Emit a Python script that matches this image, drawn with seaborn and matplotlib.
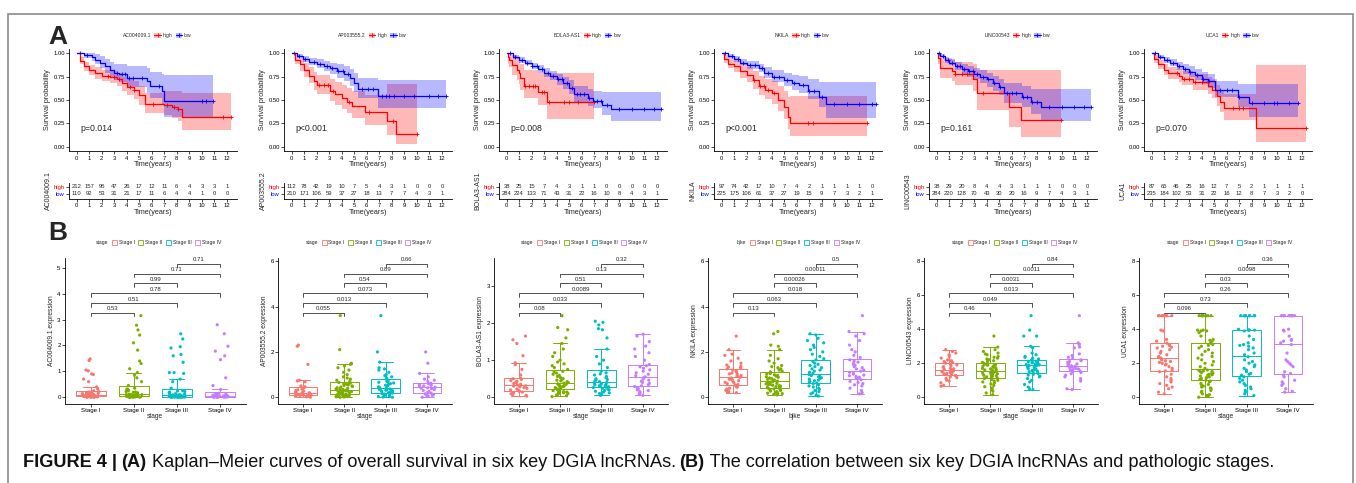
import numpy as np
import pandas as pd
import matplotlib
matplotlib.use("Agg")
import matplotlib.pyplot as plt
import seaborn as sns
from matplotlib.patches import Patch, Rectangle
from matplotlib.lines import Line2D

# ------------------------------------------------------------------ data
genes = ["AC004009.1", "AP003555.2", "BOLA3-AS1", "NKILA", "LINC00543", "UCA1"]
legend_genes = ["AC004009.1", "AP003555.2", "BOLA3-AS1", "NKILA", "LINC00543", "UCA1"]
p_values = ["p=0.014", "p<0.001", "p=0.008", "p<0.001", "p=0.161", "p=0.070"]
time_ticks = list(range(13))
surv_ticks = [0.0, 0.25, 0.5, 0.75, 1.0]
surv_tick_labels = ["0.00", "0.25", "0.50", "0.75", "1.00"]
groups = ["high", "low"]

# --- AC004009.1
AC_hi_t = [0, 0.3, 0.6, 1.0, 1.5, 2.0, 2.7, 3.2, 3.6, 4.0, 4.6, 5.0, 5.5, 7.0, 7.6, 8.1, 8.4]
AC_hi_s = [1.0, 0.92, 0.86, 0.82, 0.79, 0.76, 0.75, 0.72, 0.68, 0.64, 0.61, 0.55, 0.46, 0.45, 0.42, 0.40, 0.32]
AC_hi_lo = [1.0, 0.88, 0.81, 0.77, 0.73, 0.70, 0.68, 0.65, 0.60, 0.55, 0.51, 0.45, 0.36, 0.34, 0.31, 0.28, 0.18]
AC_hi_up = [1.0, 0.96, 0.91, 0.87, 0.85, 0.82, 0.81, 0.79, 0.75, 0.72, 0.70, 0.65, 0.57, 0.60, 0.60, 0.60, 0.58]
AC_hi_end = 12.3
AC_hi_cens = [2.5, 3.0, 3.4, 4.3, 4.6, 6.1, 7.2, 7.8, 8.1, 11.7, 12.3]
AC_lo_t = [0, 0.6, 1.2, 1.5, 1.9, 2.3, 2.7, 3.0, 3.4, 4.0, 5.6, 5.9, 6.8, 7.0]
AC_lo_s = [1.0, 0.98, 0.96, 0.93, 0.90, 0.86, 0.82, 0.79, 0.78, 0.74, 0.70, 0.65, 0.60, 0.49]
AC_lo_lo = [1.0, 0.95, 0.92, 0.88, 0.84, 0.79, 0.74, 0.71, 0.69, 0.64, 0.58, 0.52, 0.46, 0.32]
AC_lo_up = [1.0, 1.0, 1.0, 0.99, 0.97, 0.94, 0.91, 0.89, 0.88, 0.86, 0.84, 0.80, 0.78, 0.77]
AC_lo_end = 10.9
AC_lo_cens = [0.3, 0.8, 3.2, 3.6, 3.9, 4.2, 4.5, 5.2, 6.6, 10.0, 10.3, 10.9]
AC_risk_high = [212, 157, 95, 47, 26, 17, 12, 11, 6, 4, 3, 3, 1]
AC_risk_low = [110, 92, 53, 31, 21, 17, 11, 6, 4, 4, 1, 0, 0]

# --- AP003555.2
AP_hi_t = [0, 0.3, 0.7, 1.0, 1.4, 1.8, 2.0, 3.1, 3.5, 4.0, 4.4, 4.8, 5.9, 7.6, 8.3]
AP_hi_s = [1.0, 0.93, 0.88, 0.82, 0.76, 0.70, 0.66, 0.60, 0.56, 0.52, 0.48, 0.44, 0.37, 0.28, 0.14]
AP_hi_lo = [1.0, 0.88, 0.81, 0.75, 0.68, 0.61, 0.56, 0.49, 0.45, 0.40, 0.36, 0.31, 0.23, 0.13, 0.03]
AP_hi_up = [1.0, 0.98, 0.95, 0.90, 0.85, 0.80, 0.77, 0.72, 0.69, 0.66, 0.63, 0.60, 0.55, 0.67, 0.67]
AP_hi_end = 10.0
AP_hi_cens = [0.2, 2.2, 2.6, 2.9, 3.3, 4.6, 6.2, 8.1, 10.0]
AP_lo_t = [0, 0.4, 0.9, 1.4, 2.0, 2.6, 3.1, 3.6, 4.2, 4.7, 5.0, 5.3, 6.9]
AP_lo_s = [1.0, 0.97, 0.94, 0.91, 0.89, 0.86, 0.84, 0.81, 0.78, 0.74, 0.68, 0.62, 0.54]
AP_lo_lo = [1.0, 0.95, 0.91, 0.87, 0.84, 0.81, 0.78, 0.74, 0.70, 0.65, 0.59, 0.52, 0.41]
AP_lo_up = [1.0, 0.99, 0.97, 0.95, 0.94, 0.92, 0.90, 0.88, 0.86, 0.83, 0.79, 0.74, 0.71]
AP_lo_end = 12.3
AP_lo_cens = [0.6, 1.1, 1.8, 2.3, 2.8, 3.2, 3.7, 4.1, 4.5, 5.6, 6.1, 6.5, 7.2, 7.5, 7.8, 8.2, 9.0, 9.8, 11.0, 11.7, 12.3]
AP_risk_high = [112, 78, 42, 19, 10, 7, 5, 4, 3, 1, 0, 0, 0]
AP_risk_low = [210, 171, 106, 59, 37, 27, 18, 13, 7, 7, 4, 3, 1]

# --- BOLA3-AS1
BO_hi_t = [0, 0.1, 0.2, 0.4, 0.8, 1.0, 1.1, 1.4, 2.5, 3.2]
BO_hi_s = [1.0, 0.96, 0.93, 0.87, 0.82, 0.79, 0.74, 0.65, 0.59, 0.48]
BO_hi_lo = [1.0, 0.89, 0.85, 0.77, 0.71, 0.67, 0.61, 0.52, 0.45, 0.30]
BO_hi_up = [1.0, 1.0, 1.0, 0.98, 0.95, 0.93, 0.89, 0.82, 0.79, 0.79]
BO_hi_end = 7.0
BO_hi_cens = [1.5, 1.8, 2.1, 2.3, 2.8, 3.0, 3.4, 4.6, 5.0, 5.7, 7.0]
BO_lo_t = [0, 0.5, 1.0, 1.5, 2.0, 2.5, 3.0, 3.5, 4.0, 4.5, 5.0, 5.4, 6.5, 6.9, 7.6, 8.3]
BO_lo_s = [1.0, 0.96, 0.93, 0.90, 0.86, 0.83, 0.79, 0.76, 0.72, 0.68, 0.63, 0.56, 0.52, 0.49, 0.45, 0.40]
BO_lo_lo = [1.0, 0.94, 0.90, 0.87, 0.83, 0.79, 0.75, 0.71, 0.66, 0.62, 0.56, 0.48, 0.44, 0.41, 0.34, 0.27]
BO_lo_up = [1.0, 0.98, 0.96, 0.93, 0.90, 0.87, 0.84, 0.81, 0.78, 0.75, 0.71, 0.65, 0.62, 0.60, 0.59, 0.59]
BO_lo_end = 12.3
BO_lo_cens = [0.3, 0.7, 1.2, 1.6, 2.0, 2.4, 2.8, 3.3, 3.7, 4.1, 4.4, 4.8, 5.2, 5.6, 5.9, 6.2, 6.6, 7.2, 7.5, 8.0, 9.0, 10.0, 11.0, 11.8, 12.3]
BO_risk_high = [38, 25, 15, 7, 4, 3, 1, 1, 0, 0, 0, 0, 0]
BO_risk_low = [284, 224, 133, 71, 43, 31, 22, 16, 10, 8, 4, 3, 1]

# --- NKILA
NK_hi_t = [0, 0.2, 0.5, 1.0, 1.5, 2.0, 2.5, 3.0, 3.5, 4.0, 4.5, 5.0, 5.3, 5.5]
NK_hi_s = [1.0, 0.94, 0.89, 0.86, 0.81, 0.77, 0.71, 0.65, 0.61, 0.57, 0.50, 0.43, 0.32, 0.25]
NK_hi_lo = [1.0, 0.90, 0.84, 0.80, 0.74, 0.69, 0.62, 0.55, 0.51, 0.46, 0.38, 0.30, 0.19, 0.11]
NK_hi_up = [1.0, 0.98, 0.95, 0.92, 0.88, 0.85, 0.81, 0.76, 0.73, 0.70, 0.65, 0.60, 0.53, 0.54]
NK_hi_end = 11.6
NK_hi_cens = [2.6, 3.1, 3.4, 3.7, 4.2, 6.9, 7.3, 11.6]
NK_lo_t = [0, 0.5, 1.0, 1.5, 2.0, 3.0, 3.4, 4.0, 5.0, 5.6, 6.2, 6.9, 7.8, 8.3]
NK_lo_s = [1.0, 0.97, 0.94, 0.90, 0.87, 0.84, 0.79, 0.75, 0.71, 0.68, 0.66, 0.60, 0.53, 0.46]
NK_lo_lo = [1.0, 0.95, 0.91, 0.87, 0.83, 0.80, 0.74, 0.69, 0.65, 0.61, 0.58, 0.51, 0.42, 0.31]
NK_lo_up = [1.0, 0.99, 0.97, 0.94, 0.92, 0.89, 0.85, 0.82, 0.79, 0.77, 0.76, 0.72, 0.69, 0.69]
NK_lo_end = 12.3
NK_lo_cens = [0.3, 0.8, 1.3, 1.7, 2.3, 2.7, 3.2, 3.7, 4.2, 4.6, 5.2, 5.8, 6.5, 7.0, 7.4, 8.0, 9.0, 10.0, 11.0, 12.0, 12.3]
NK_risk_high = [97, 74, 42, 17, 10, 7, 4, 2, 1, 1, 1, 1, 0]
NK_risk_low = [225, 175, 106, 61, 37, 27, 19, 15, 9, 7, 3, 2, 1]

# --- LINC00543
LI_hi_t = [0, 0.1, 0.3, 1.2, 1.5, 2.9, 3.2, 5.8, 6.7]
LI_hi_s = [1.0, 0.95, 0.84, 0.81, 0.78, 0.73, 0.57, 0.43, 0.29]
LI_hi_lo = [1.0, 0.88, 0.74, 0.70, 0.66, 0.60, 0.39, 0.21, 0.10]
LI_hi_up = [1.0, 1.0, 0.95, 0.93, 0.91, 0.88, 0.82, 0.82, 0.82]
LI_hi_end = 9.9
LI_hi_cens = [1.5, 2.0, 2.4, 3.7, 9.9]
LI_lo_t = [0, 0.3, 0.7, 1.0, 1.5, 2.0, 2.5, 3.0, 3.5, 4.0, 4.5, 5.0, 5.4, 6.8, 7.5, 8.3]
LI_lo_s = [1.0, 0.97, 0.93, 0.90, 0.86, 0.83, 0.81, 0.78, 0.75, 0.72, 0.68, 0.64, 0.57, 0.53, 0.48, 0.42]
LI_lo_lo = [1.0, 0.95, 0.90, 0.87, 0.82, 0.78, 0.75, 0.72, 0.68, 0.64, 0.60, 0.55, 0.47, 0.42, 0.35, 0.27]
LI_lo_up = [1.0, 0.99, 0.96, 0.94, 0.91, 0.88, 0.86, 0.84, 0.82, 0.79, 0.76, 0.73, 0.68, 0.65, 0.62, 0.62]
LI_lo_end = 12.3
LI_lo_cens = [0.2, 0.5, 0.9, 1.2, 1.6, 1.9, 2.2, 2.6, 2.9, 3.2, 3.7, 4.1, 4.6, 5.1, 5.6, 6.0, 6.3, 6.9, 7.2, 7.6, 8.0, 9.0, 10.0, 11.0, 11.8, 12.3]
LI_risk_high = [38, 29, 20, 8, 4, 4, 3, 1, 1, 1, 0, 0, 0]
LI_risk_low = [284, 220, 128, 70, 43, 30, 20, 16, 9, 7, 4, 3, 1]

# --- UCA1
UC_hi_t = [0, 0.2, 0.5, 1.0, 1.3, 2.2, 2.4, 3.3, 4.5, 4.8, 5.2, 5.5, 5.8, 8.3]
UC_hi_s = [1.0, 0.94, 0.88, 0.82, 0.79, 0.76, 0.73, 0.69, 0.65, 0.61, 0.54, 0.48, 0.41, 0.20]
UC_hi_lo = [1.0, 0.90, 0.83, 0.77, 0.73, 0.69, 0.66, 0.61, 0.56, 0.52, 0.44, 0.37, 0.29, 0.05]
UC_hi_up = [1.0, 0.98, 0.93, 0.88, 0.85, 0.83, 0.81, 0.78, 0.75, 0.72, 0.66, 0.61, 0.56, 0.87]
UC_hi_end = 12.3
UC_hi_cens = [2.0, 2.6, 3.0, 3.5, 4.0, 6.5, 7.0, 7.3, 12.3]
UC_lo_t = [0, 0.5, 1.0, 1.5, 2.0, 2.5, 3.0, 3.5, 4.0, 4.5, 5.1, 6.9, 7.8]
UC_lo_s = [1.0, 0.96, 0.93, 0.90, 0.86, 0.83, 0.80, 0.77, 0.73, 0.70, 0.61, 0.53, 0.47]
UC_lo_lo = [1.0, 0.94, 0.90, 0.86, 0.82, 0.78, 0.75, 0.71, 0.67, 0.63, 0.53, 0.43, 0.32]
UC_lo_up = [1.0, 0.98, 0.96, 0.94, 0.91, 0.88, 0.86, 0.83, 0.80, 0.78, 0.70, 0.67, 0.67]
UC_lo_end = 11.7
UC_lo_cens = [0.3, 0.7, 1.2, 1.7, 2.2, 2.7, 3.1, 3.6, 4.1, 4.6, 5.5, 6.0, 6.4, 7.0, 8.0, 9.0, 9.8, 10.0, 11.0, 11.7]
UC_risk_high = [87, 65, 46, 25, 16, 12, 7, 5, 2, 1, 1, 1, 1]
UC_risk_low = [235, 184, 102, 53, 31, 22, 16, 12, 8, 7, 3, 2, 0]

# --- panel B: expression by stage
stages = ["Stage I", "Stage II", "Stage III", "Stage IV"]
box_titles = ["stage", "stage", "stage", "bjke", "stage", "stage"]
box_yticks = [[0, 1, 2, 3, 4, 5], [0, 2, 4, 6], [0, 1, 2, 3], [0, 2, 4, 6], [0, 2, 4, 6, 8], [0, 2, 4, 6, 8]]
comparisons = [(0, 1), (0, 2), (0, 3), (1, 2), (1, 3), (2, 3)]
AC_pairs_p = ["0.53", "0.51", "0.78", "0.99", "0.71", "0.71"]
AP_pairs_p = ["0.055", "0.013", "0.073", "0.54", "0.89", "0.66"]
BO_pairs_p = ["0.08", "0.033", "0.0089", "0.51", "0.13", "0.32"]
NK_pairs_p = ["0.13", "0.063", "0.018", "0.00026", "0.00011", "0.5"]
LI_pairs_p = ["0.46", "0.049", "0.013", "0.0031", "0.0011", "0.84"]
UC_pairs_p = ["0.096", "0.73", "0.26", "0.03", "0.0098", "0.36"]

AC_I = [0.0, 0.0, 0.01, 0.01, 0.02, 0.02, 0.03, 0.04, 0.05, 0.06, 0.07, 0.08, 0.08, 0.09, 0.10, 0.12, 0.14, 0.16, 0.18, 0.20,
        0.0, 0.01, 0.02, 0.03, 0.04, 0.05, 0.06, 0.10, 0.12, 0.15,
        0.22, 0.25, 0.32, 0.40, 0.60, 0.70, 0.88, 0.90, 1.02, 1.05, 1.42, 1.48]
AC_II = [0, 0, 0, 0, 0.01, 0.01, 0.01, 0.02, 0.02, 0.02, 0.03, 0.03, 0.04, 0.04, 0.05, 0.05, 0.06, 0.06, 0.07, 0.07, 0.08, 0.08, 0.09, 0.09, 0.1, 0.1, 0.1,
         0.12, 0.14, 0.15, 0.17, 0.19, 0.2, 0.22, 0.24, 0.26, 0.28, 0.3, 0.32, 0.35,
         0.45, 0.6, 0.75, 0.85, 0.95, 1.1, 1.3, 1.4, 1.82, 2.1, 2.4, 2.6, 2.78, 3.15]
AC_III = [0, 0, 0, 0, 0, 0, 0.01, 0.01, 0.01, 0.01, 0.02, 0.02, 0.02, 0.03, 0.03, 0.03, 0.04, 0.04, 0.04, 0.05, 0.05, 0.05,
          0.06, 0.06, 0.07, 0.07, 0.08, 0.08,
          0.09, 0.1, 0.12, 0.14, 0.16, 0.18, 0.2, 0.22, 0.24, 0.25,
          0.35, 0.6, 0.7, 0.92, 0.95, 0.95, 1.35, 1.6, 1.65, 1.9, 1.95, 2.25, 2.45]
AC_IV = [0, 0, 0, 0, 0.01, 0.01, 0.01, 0.02, 0.02, 0.02, 0.03, 0.03, 0.03, 0.04, 0.04, 0.05, 0.05,
         0.06, 0.07, 0.08, 0.08, 0.09, 0.1, 0.11, 0.12, 0.14, 0.15,
         0.3, 0.45, 0.75, 1.45, 1.6, 1.78, 1.97, 2.45, 2.8]

AP_I = [0, 0.02, 0.04, 0.05, 0.05, 0.07, 0.08, 0.1, 0.11, 0.12, 0.13, 0.14, 0.15, 0.17, 0.18, 0.2, 0.2, 0.22, 0.25, 0.28,
        0.3, 0.33, 0.36, 0.4, 0.44, 0.46, 0.5, 0.68, 0.72, 0.75, 1.45, 2.25, 2.3]
AP_II = [0, 0.01, 0.02, 0.03, 0.04, 0.05, 0.06, 0.07, 0.08, 0.09, 0.1, 0.1, 0.11, 0.12,
         0.14, 0.16, 0.18, 0.2, 0.22, 0.23, 0.25, 0.26, 0.27, 0.28, 0.3, 0.31, 0.32,
         0.34, 0.36, 0.38, 0.4, 0.42, 0.45, 0.47, 0.5, 0.52, 0.55, 0.57, 0.6, 0.62,
         0.65, 0.7, 0.75, 0.8, 0.85, 0.9, 1.0, 1.1, 1.2, 1.3, 1.38, 1.45, 1.5, 2.1, 3.6]
AP_III = [0, 0.01, 0.03, 0.05, 0.07, 0.09, 0.1, 0.12, 0.14, 0.16, 0.18,
          0.2, 0.22, 0.24, 0.26, 0.28, 0.3, 0.31, 0.33, 0.35, 0.36, 0.37,
          0.4, 0.43, 0.46, 0.5, 0.53, 0.56, 0.6, 0.63, 0.66, 0.68, 0.7,
          0.75, 0.8, 0.85, 0.9, 0.95, 1.0, 1.1, 1.2, 1.25, 1.3, 1.55, 2.0, 3.6]
AP_IV = [0, 0.03, 0.05, 0.08, 0.1, 0.12, 0.15, 0.18, 0.22, 0.26, 0.3, 0.34, 0.38, 0.4, 0.42, 0.44, 0.47, 0.5, 0.52, 0.55,
         0.58, 0.6, 0.62, 0.7, 0.75, 0.8, 0.9, 1.05, 1.5, 2.0]

BO_I = [0.03, 0.05, 0.07, 0.09, 0.1, 0.12, 0.14, 0.16, 0.17,
        0.18, 0.2, 0.22, 0.24, 0.26, 0.28, 0.3, 0.31, 0.33,
        0.35, 0.37, 0.39, 0.41, 0.43, 0.45, 0.48, 0.5, 0.52,
        0.6, 0.75, 0.88, 0.93, 1.12, 1.45, 1.55, 1.65]
BO_II = [0.02, 0.04, 0.06, 0.08, 0.1, 0.11, 0.12, 0.13, 0.14, 0.15, 0.16, 0.18, 0.2, 0.22,
         0.23, 0.24, 0.26, 0.27, 0.28, 0.29, 0.3, 0.31, 0.32, 0.33, 0.35, 0.36, 0.38,
         0.4, 0.42, 0.44, 0.46, 0.48, 0.5, 0.53, 0.56, 0.59, 0.62, 0.65, 0.68, 0.7,
         0.75, 0.8, 0.85, 0.9, 0.95, 1.0, 1.1, 1.2, 1.3, 1.45, 1.6, 1.82, 1.88, 2.2]
BO_III = [0.05, 0.08, 0.1, 0.12, 0.14, 0.16, 0.18, 0.2, 0.22, 0.24, 0.26,
          0.27, 0.28, 0.29, 0.3, 0.31, 0.32, 0.33, 0.34, 0.36, 0.38, 0.4,
          0.42, 0.44, 0.46, 0.48, 0.5, 0.53, 0.56, 0.6, 0.63, 0.66, 0.7,
          0.8, 0.9, 1.0, 1.1, 1.3, 1.6, 1.82, 1.85, 1.95, 2.02, 2.05]
BO_IV = [0.05, 0.08, 0.12, 0.15, 0.18, 0.2, 0.23, 0.26, 0.29,
         0.31, 0.34, 0.37, 0.4, 0.43, 0.46, 0.49, 0.52, 0.55,
         0.58, 0.62, 0.66, 0.7, 0.74, 0.78, 0.82, 0.85, 0.88,
         1.0, 1.1, 1.2, 1.3, 1.38, 1.5, 1.65, 1.7]

NK_I = [0.2, 0.22, 0.25, 0.3, 0.33, 0.36, 0.4, 0.44, 0.48, 0.5, 0.53,
        0.56, 0.6, 0.63, 0.66, 0.7, 0.73, 0.76, 0.79, 0.82, 0.85, 0.88,
        0.9, 0.93, 0.96, 1.0, 1.03, 1.07, 1.1, 1.13, 1.17, 1.2, 1.25,
        1.3, 1.33, 1.37, 1.42, 1.5, 1.6, 1.72, 1.85, 1.9, 2.1, 2.7]
NK_II = [0.1, 0.12, 0.14, 0.16, 0.18, 0.2, 0.22, 0.24, 0.27, 0.3, 0.32, 0.35, 0.37, 0.39, 0.41,
         0.43, 0.45, 0.47, 0.49, 0.51, 0.53, 0.55, 0.57, 0.59, 0.61, 0.63, 0.65, 0.67, 0.69, 0.71,
         0.73, 0.76, 0.79, 0.82, 0.85, 0.88, 0.9, 0.93, 0.96, 0.99, 1.02, 1.05, 1.08, 1.1, 1.12,
         1.15, 1.2, 1.25, 1.3, 1.35, 1.4, 1.5, 1.6, 1.7, 1.85, 2.1, 2.25, 2.3, 2.8, 2.9]
NK_III = [0.05, 0.1, 0.15, 0.2, 0.25, 0.3, 0.35, 0.4, 0.45, 0.5, 0.55, 0.6,
          0.63, 0.66, 0.7, 0.73, 0.76, 0.8, 0.83, 0.86, 0.9, 0.93, 0.96, 1.0,
          1.05, 1.1, 1.15, 1.2, 1.25, 1.3, 1.35, 1.4, 1.45, 1.5, 1.58, 1.65,
          1.7, 1.8, 1.9, 2.0, 2.1, 2.2, 2.3, 2.4, 2.5, 2.6, 2.75, 2.8]
NK_IV = [0.15, 0.2, 0.3, 0.4, 0.5, 0.55, 0.6, 0.65, 0.7, 0.77,
         0.82, 0.85, 0.88, 0.92, 0.95, 0.98, 1.02, 1.06, 1.1, 1.15,
         1.2, 1.25, 1.3, 1.35, 1.4, 1.45, 1.5, 1.55, 1.6, 1.65,
         1.75, 1.85, 2.0, 2.1, 2.3, 2.5, 2.7, 2.8, 2.9, 3.6]

LI_I = [0.65, 0.7, 0.85, 0.95, 1.0, 1.1, 1.15, 1.2, 1.25, 1.28,
        1.32, 1.35, 1.38, 1.4, 1.43, 1.46, 1.5, 1.52, 1.55, 1.58,
        1.6, 1.63, 1.67, 1.7, 1.75, 1.8, 1.85, 1.9, 1.95, 2.0,
        2.05, 2.1, 2.15, 2.2, 2.3, 2.4, 2.5, 2.6, 2.7, 2.8]
LI_II = [0.15, 0.25, 0.35, 0.45, 0.55, 0.62, 0.7, 0.78, 0.85, 0.9, 0.95, 1.0, 1.05, 1.1, 1.13,
         1.17, 1.2, 1.23, 1.26, 1.29, 1.32, 1.35, 1.38, 1.41, 1.44, 1.47, 1.5, 1.52, 1.54, 1.55,
         1.58, 1.61, 1.64, 1.67, 1.7, 1.73, 1.76, 1.79, 1.82, 1.85, 1.88, 1.91, 1.94, 1.97, 2.0,
         2.05, 2.1, 2.15, 2.2, 2.25, 2.3, 2.35, 2.4, 2.5, 2.55, 2.6, 2.7, 2.8, 2.95, 3.6]
LI_III = [0.45, 0.5, 0.6, 0.75, 0.9, 1.0, 1.1, 1.2, 1.25, 1.3, 1.35, 1.4,
          1.45, 1.5, 1.53, 1.57, 1.6, 1.64, 1.68, 1.72, 1.75, 1.78, 1.82, 1.85,
          1.87, 1.9, 1.92, 1.95, 1.97, 2.0, 2.02, 2.05, 2.08, 2.1, 2.12, 2.15,
          2.2, 2.25, 2.3, 2.35, 2.4, 2.5, 2.6, 2.9, 3.0, 3.6, 3.6, 3.95, 4.8]
LI_IV = [0.45, 0.5, 0.95, 1.1, 1.2, 1.3, 1.38, 1.45, 1.5,
         1.55, 1.6, 1.63, 1.67, 1.7, 1.74, 1.78, 1.82, 1.85,
         1.88, 1.92, 1.96, 2.0, 2.05, 2.1, 2.15, 2.2, 2.28,
         2.35, 2.45, 2.55, 2.9, 2.95, 3.1, 3.2, 4.8]

UC_I = [0.2, 0.3, 0.5, 0.6, 0.7, 0.8, 0.9, 1.0, 1.1, 1.2, 1.35, 1.5,
        1.55, 1.6, 1.7, 1.8, 1.9, 1.95, 2.0, 2.05, 2.1, 2.15, 2.2, 2.3,
        2.35, 2.4, 2.5, 2.6, 2.7, 2.8, 2.9, 2.95, 3.0, 3.05, 3.1, 3.18,
        3.3, 3.4, 3.9, 3.95, 4.8, 4.8, 4.8, 4.8, 4.8, 4.8, 4.8, 4.8]
UC_II = [0.0, 0.05, 0.1, 0.15, 0.2, 0.3, 0.35, 0.4, 0.5, 0.55, 0.6, 0.65, 0.7, 0.75, 0.8, 0.9, 0.95,
         1.0, 1.05, 1.1, 1.15, 1.2, 1.25, 1.3, 1.32, 1.35, 1.4, 1.42, 1.45, 1.5, 1.52, 1.55, 1.58, 1.6,
         1.7, 1.8, 1.9, 2.0, 2.1, 2.2, 2.3, 2.4, 2.5, 2.6, 2.7, 2.8, 2.9, 3.0, 3.05, 3.1, 3.18,
         3.3, 3.35, 3.4, 3.6, 3.8, 3.9, 3.9, 3.95, 3.95, 4.8, 4.8, 4.8, 4.8, 4.8, 4.8, 4.8, 4.8]
UC_III = [0.1, 0.2, 0.3, 0.4, 0.5, 0.6, 0.7, 0.8, 0.9, 1.0, 1.1, 1.2,
          1.3, 1.35, 1.4, 1.5, 1.6, 1.7, 1.8, 1.9, 2.0, 2.1, 2.2, 2.38,
          2.5, 2.6, 2.8, 2.9, 3.0, 3.05, 3.1, 3.2, 3.4, 3.6, 3.9, 3.95,
          3.95, 3.95, 3.95, 4.0, 4.8, 4.8, 4.8, 4.8, 4.8, 4.8, 4.8, 4.8]
UC_IV = [0.3, 0.35, 0.5, 0.7, 0.8, 0.9, 1.0, 1.2, 1.3,
         1.4, 1.5, 1.8, 1.9, 2.0, 2.1, 2.2, 2.6, 3.1,
         3.2, 3.3, 3.35, 3.4, 3.6, 3.9, 3.95, 4.0, 4.8,
         4.8, 4.8, 4.8, 4.8, 4.8, 4.8, 4.8, 4.8, 4.8]

caption_parts = [("FIGURE 4 | ", "bold"), ("(A)", "bold"),
                 (" Kaplan\u2013Meier curves of overall survival in six key DGIA lncRNAs. ", "normal"),
                 ("(B)", "bold"),
                 (" The correlation between six key DGIA lncRNAs and pathologic stages.", "normal")]

# ------------------------------------------------------------------ assemble
km_sets = {
    "AC004009.1": ((AC_hi_t, AC_hi_s, AC_hi_lo, AC_hi_up, AC_hi_end, AC_hi_cens),
                   (AC_lo_t, AC_lo_s, AC_lo_lo, AC_lo_up, AC_lo_end, AC_lo_cens), AC_risk_high, AC_risk_low),
    "AP003555.2": ((AP_hi_t, AP_hi_s, AP_hi_lo, AP_hi_up, AP_hi_end, AP_hi_cens),
                   (AP_lo_t, AP_lo_s, AP_lo_lo, AP_lo_up, AP_lo_end, AP_lo_cens), AP_risk_high, AP_risk_low),
    "BOLA3-AS1": ((BO_hi_t, BO_hi_s, BO_hi_lo, BO_hi_up, BO_hi_end, BO_hi_cens),
                  (BO_lo_t, BO_lo_s, BO_lo_lo, BO_lo_up, BO_lo_end, BO_lo_cens), BO_risk_high, BO_risk_low),
    "NKILA": ((NK_hi_t, NK_hi_s, NK_hi_lo, NK_hi_up, NK_hi_end, NK_hi_cens),
              (NK_lo_t, NK_lo_s, NK_lo_lo, NK_lo_up, NK_lo_end, NK_lo_cens), NK_risk_high, NK_risk_low),
    "LINC00543": ((LI_hi_t, LI_hi_s, LI_hi_lo, LI_hi_up, LI_hi_end, LI_hi_cens),
                  (LI_lo_t, LI_lo_s, LI_lo_lo, LI_lo_up, LI_lo_end, LI_lo_cens), LI_risk_high, LI_risk_low),
    "UCA1": ((UC_hi_t, UC_hi_s, UC_hi_lo, UC_hi_up, UC_hi_end, UC_hi_cens),
             (UC_lo_t, UC_lo_s, UC_lo_lo, UC_lo_up, UC_lo_end, UC_lo_cens), UC_risk_high, UC_risk_low),
}
box_sets = {
    "AC004009.1": ([AC_I, AC_II, AC_III, AC_IV], AC_pairs_p),
    "AP003555.2": ([AP_I, AP_II, AP_III, AP_IV], AP_pairs_p),
    "BOLA3-AS1": ([BO_I, BO_II, BO_III, BO_IV], BO_pairs_p),
    "NKILA": ([NK_I, NK_II, NK_III, NK_IV], NK_pairs_p),
    "LINC00543": ([LI_I, LI_II, LI_III, LI_IV], LI_pairs_p),
    "UCA1": ([UC_I, UC_II, UC_III, UC_IV], UC_pairs_p),
}

# ------------------------------------------------------------------ style
sns.set_theme(style="white")
plt.rcParams["font.family"] = ["Liberation Sans", "DejaVu Sans"]
np.random.seed(3)

W, H = 1356, 483
fig = plt.figure(figsize=(W / 100, H / 100), dpi=100)
fig.patch.set_facecolor("white")

RED, BLUE = "#FF0000", "#0000FF"
stage_colors = ["#F8766D", "#7CAE00", "#00BFC4", "#C77CFF"]


def px_axes(l, t, r, b):
    return fig.add_axes([l / W, 1 - b / H, (r - l) / W, (b - t) / H])


def style_axes(ax, labelsize=4.2):
    sns.despine(ax=ax)
    for sp in ("left", "bottom"):
        ax.spines[sp].set_linewidth(0.6)
        ax.spines[sp].set_color("black")
    ax.tick_params(left=True, bottom=True, length=2, width=0.5, pad=1,
                   labelsize=labelsize, colors="black")
    ax.set_facecolor("white")


def draw_curve(ax, curve, color):
    t, s, lo, up, end, cens = curve
    tt = list(t) + [end]
    ss = list(s) + [s[-1]]
    ll = list(lo) + [lo[-1]]
    uu = list(up) + [up[-1]]
    ax.fill_between(tt, ll, uu, step="post", color=color, alpha=0.28, lw=0)
    df = pd.DataFrame({"t": tt, "s": ss})
    sns.lineplot(data=df, x="t", y="s", drawstyle="steps-post", color=color,
                 lw=0.9, estimator=None, sort=False, ax=ax)
    idx = np.searchsorted(np.array(t), np.array(cens), side="right") - 1
    cy = np.array(s)[idx]
    sns.scatterplot(x=cens, y=cy, marker="+", color=color, s=9, linewidth=0.6, ax=ax)


for c, gene in enumerate(genes):
    hi, lo, rh, rl = km_sets[gene]
    x0 = 77 + 215 * c
    ax = px_axes(x0 - 8, 48.6, x0 + 160, 151.4)
    draw_curve(ax, hi, RED)
    draw_curve(ax, lo, BLUE)
    ax.set_xlim(-0.6, 12.8)
    ax.set_ylim(-0.05, 1.05)
    ax.set_xticks(time_ticks)
    ax.set_yticks(surv_ticks)
    ax.set_yticklabels(surv_tick_labels)
    style_axes(ax)
    ax.set_xlabel("Time(years)", fontsize=5.2, labelpad=0.5)
    ax.set_ylabel("Survival probability", fontsize=5.2, labelpad=1.5)
    ax.text(0.3, 0.2, p_values[c], fontsize=6.3, ha="left", va="center")
    h_hi = (Patch(facecolor=RED, alpha=0.28, lw=0),
            Line2D([0], [0], color=RED, lw=0.8, marker="+", ms=3, mew=0.6))
    h_lo = (Patch(facecolor=BLUE, alpha=0.28, lw=0),
            Line2D([0], [0], color=BLUE, lw=0.8, marker="+", ms=3, mew=0.6))
    blank = Line2D([], [], linestyle="none")
    ax.legend([blank, h_hi, h_lo], [legend_genes[c], "high", "low"], ncol=3,
              loc="center", bbox_to_anchor=(0.5, 1.125), frameon=False,
              fontsize=3.6, handlelength=1.3, handleheight=1.3,
              handletextpad=0.4, columnspacing=0.6, borderaxespad=0)

    # risk table
    rax = px_axes(x0 - 8, 183, x0 + 160, 199)
    for i, tm in enumerate(time_ticks):
        rax.text(tm, 1, str(rh[i]), fontsize=4.2, ha="center", va="center")
        rax.text(tm, 0, str(rl[i]), fontsize=4.2, ha="center", va="center")
    rax.set_xlim(-0.6, 12.8)
    rax.set_ylim(-0.75, 1.55)
    rax.set_xticks(time_ticks)
    rax.set_yticks([1, 0])
    rax.set_yticklabels(groups)
    style_axes(rax)
    for lab, col in zip(rax.get_yticklabels(), [RED, BLUE]):
        lab.set_color(col)
    rax.set_xlabel("Time(years)", fontsize=5.2, labelpad=0.5)
    rax.set_ylabel(gene, fontsize=5, labelpad=1.5)

# ------------------------------------------------------------------ panel B
box_lr = [(64.8, 245.8), (278.2, 451.8), (493.9, 667.5), (708.2, 881.8),
          (924.2, 1097.8), (1139.2, 1312.8)]
for c, gene in enumerate(genes):
    groups_vals, pair_p = box_sets[gene]
    df = pd.DataFrame({
        "stage": np.repeat(stages, [len(v) for v in groups_vals]),
        "expr": np.concatenate([np.asarray(v, float) for v in groups_vals]),
    })
    l, r = box_lr[c]
    ax = px_axes(l, 258, r, 403.5)
    sns.boxplot(data=df, x="stage", y="expr", hue="stage", order=stages,
                hue_order=stages, palette=stage_colors, fill=False, width=0.7,
                linewidth=0.7, showfliers=False, legend=False, ax=ax)
    sns.stripplot(data=df, x="stage", y="expr", hue="stage", order=stages,
                  hue_order=stages, palette=stage_colors, jitter=0.2, size=2.3,
                  linewidth=0, legend=False, ax=ax)
    ymax = df["expr"].max()
    base = ymax * 1.035
    step = ymax * 0.12
    top = base + 5 * step + 0.6 * step
    ax.set_ylim(-0.045 * top, top)
    ax.set_xlim(-0.6, 3.6)
    tip = 0.025 * top
    for k, (a, b) in enumerate(comparisons):
        y = base + k * step
        ax.plot([a, a, b, b], [y - tip, y, y, y - tip], color="#333333", lw=0.6)
        ax.text((a + b) / 2, y + 0.01 * top, pair_p[k], fontsize=4.3,
                ha="center", va="bottom")
    ax.set_yticks(box_yticks[c])
    style_axes(ax, labelsize=4.4)
    ax.set_xlabel(box_titles[c], fontsize=4.8, labelpad=0.5)
    ax.set_ylabel(f"{gene} expression", fontsize=4.8, labelpad=1.5)
    handles = [Line2D([], [], linestyle="none")] + [
        Patch(facecolor="white", edgecolor=col, lw=0.6) for col in stage_colors]
    ax.legend(handles, [box_titles[c]] + stages, ncol=5, loc="center",
              bbox_to_anchor=(0.5, 1.105), frameon=False, fontsize=3.6,
              handlelength=1.0, handleheight=1.0, handletextpad=0.4,
              columnspacing=0.7, borderaxespad=0)

# ------------------------------------------------------------------ decorations
fig.text(48 / W, 1 - 37 / H, "A", fontsize=19, fontweight="bold", va="center", ha="left")
fig.text(48 / W, 1 - 233 / H, "B", fontsize=19, fontweight="bold", va="center", ha="left")
fig.add_artist(Rectangle((8 / W, -0.05), (1353 - 8) / W, 1.05 - 14 / H,
                         transform=fig.transFigure, fill=False,
                         edgecolor="#8a8a8a", lw=1.2))

# caption: measure once, then scale to the reference width and draw
renderer = fig.canvas.get_renderer()
probe_size = 11.0
widths = []
for s, wgt in caption_parts:
    t = fig.text(0, 0, s, fontsize=probe_size, fontweight=wgt)
    widths.append(t.get_window_extent(renderer).width)
    t.remove()
cap_size = probe_size * (1273 - 23) / sum(widths)
x = 23.0
for (s, wgt), w in zip(caption_parts, widths):
    fig.text(x / W, 1 - 467 / H, s, fontsize=cap_size, fontweight=wgt,
             ha="left", va="baseline", color="#111111")
    x += w * cap_size / probe_size

fig.savefig("out.png", dpi=100, facecolor="white")
